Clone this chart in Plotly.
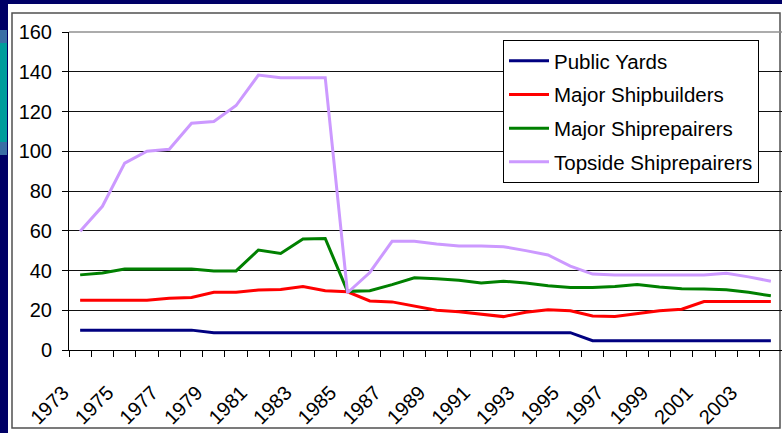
import plotly.graph_objects as go

years = [str(y) for y in range(1973, 2005)]
public_yards = [10, 10, 10, 10, 10, 10, 8.7, 8.7, 8.7, 8.7, 8.7, 8.7, 8.7, 8.7, 8.7, 8.7,
                8.7, 8.7, 8.7, 8.7, 8.7, 8.7, 8.7, 4.7, 4.7, 4.7, 4.7, 4.7, 4.7, 4.7, 4.7, 4.7]
major_shipbuilders = [25, 25, 25, 25, 26, 26.4, 29, 29, 30.2, 30.5, 31.9, 29.8, 29.3, 24.7,
                      24.2, 22.2, 20, 19.3, 18, 16.8, 19, 20.2, 19.7, 17.1, 16.8, 18.3, 19.7,
                      20.5, 24.4, 24.4, 24.4, 24.4]
major_shiprepairers = [37.8, 38.8, 40.8, 40.8, 40.5, 40.8, 39.8, 39.8, 50.3, 48.6, 55.8, 56.1,
                       29.5, 29.8, 32.9, 36.3, 35.8, 35.1, 33.7, 34.6, 33.7, 32.3, 31.5, 31.5,
                       32, 32.9, 31.7, 30.8, 30.7, 30.3, 29, 27.3]
topside_shiprepairers = [59.7, 72.3, 94, 100, 101, 114.1, 115, 123, 138.3, 137, 137, 137, 28.8,
                         39, 54.7, 54.7, 53.3, 52.3, 52.3, 52, 50, 47.8, 42.2, 38.2, 37.7, 37.7,
                         37.7, 37.7, 37.7, 38.6, 36.8, 34.6]

series_names = ["Public Yards", "Major Shipbuilders", "Major Shiprepairers", "Topside Shiprepairers"]
series_values = [public_yards, major_shipbuilders, major_shiprepairers, topside_shiprepairers]
series_colors = ["#000080", "#FF0000", "#008000", "#CC99FF"]

label_years = [str(y) for y in range(1973, 2004, 2)]
x_ticktext = [y if y in label_years else "" for y in years]
y_ticks = list(range(0, 161, 20))

W, H = 782, 433
ML, MR, MT, MB = 69, 0, 32, 83
PW, PH = W - ML - MR, H - MT - MB


def px(x):
    return (x - ML) / PW


def py(y):
    return (H - MB - y) / PH


fig = go.Figure()
for i, (name, vals, col) in enumerate(zip(series_names, series_values, series_colors)):
    fig.add_trace(go.Scatter(x=years, y=vals, name=name, mode="lines",
                             line=dict(color=col, width=3), legendgroup=str(i)))

shapes = [
    dict(type="rect", xref="paper", yref="paper", x0=px(8), x1=px(790), y0=py(4), y1=py(440),
         fillcolor="white", line=dict(width=0), layer="below"),
    dict(type="rect", xref="paper", yref="paper", x0=px(12), x1=px(780), y0=py(13), y1=py(428),
         fillcolor="rgba(0,0,0,0)", line=dict(color="#505050", width=1.5), layer="below"),
    dict(type="rect", xref="paper", yref="paper", x0=px(-5), x1=px(7), y0=py(30), y1=py(43),
         fillcolor="#3A6EA5", line=dict(width=0), layer="below"),
    dict(type="rect", xref="paper", yref="paper", x0=px(-5), x1=px(7), y0=py(43), y1=py(142),
         fillcolor="#009C9C", line=dict(width=0), layer="below"),
    dict(type="rect", xref="paper", yref="paper", x0=px(-5), x1=px(7), y0=py(142), y1=py(155),
         fillcolor="#3A6EA5", line=dict(width=0), layer="below"),
    dict(type="line", xref="paper", yref="paper", x0=0, x1=1, y0=1, y1=1,
         line=dict(color="#909090", width=1.5), layer="above"),
]

fig.update_layout(
    width=W, height=H,
    margin=dict(l=ML, r=MR, t=MT, b=MB, pad=0, autoexpand=False),
    paper_bgcolor="#000066",
    plot_bgcolor="rgba(0,0,0,0)",
    font=dict(family="Liberation Sans, Arial, sans-serif", size=20, color="black"),
    shapes=shapes,
    showlegend=True,
    legend=dict(x=px(503), y=py(40), xanchor="left", yanchor="top",
                bgcolor="white", bordercolor="black", borderwidth=1, itemwidth=40,
                font=dict(size=20.5), traceorder="grouped", tracegroupgap=4),
    xaxis=dict(type="category", tickmode="array", tickvals=years, ticktext=x_ticktext,
               tickson="boundaries", ticks="outside", ticklen=6, tickcolor="black",
               tickangle=-45, ticklabelstandoff=22, ticklabelshift=-17, automargin=False,
               showgrid=False, zeroline=False, showline=True, linecolor="black", linewidth=1,
               range=[-0.5, len(years) - 0.5], fixedrange=True),
    yaxis=dict(range=[0, 160], tickmode="array", tickvals=y_ticks, ticks="outside", ticklen=6,
               tickcolor="black", showgrid=True, gridcolor="#111111", gridwidth=1,
               zeroline=False, showline=True, linecolor="black", linewidth=1,
               ticklabelstandoff=6, automargin=False, fixedrange=True),
)

fig.write_html("out.html", config={"displayModeBar": False},
               post_script="document.body.style.margin='0';")
